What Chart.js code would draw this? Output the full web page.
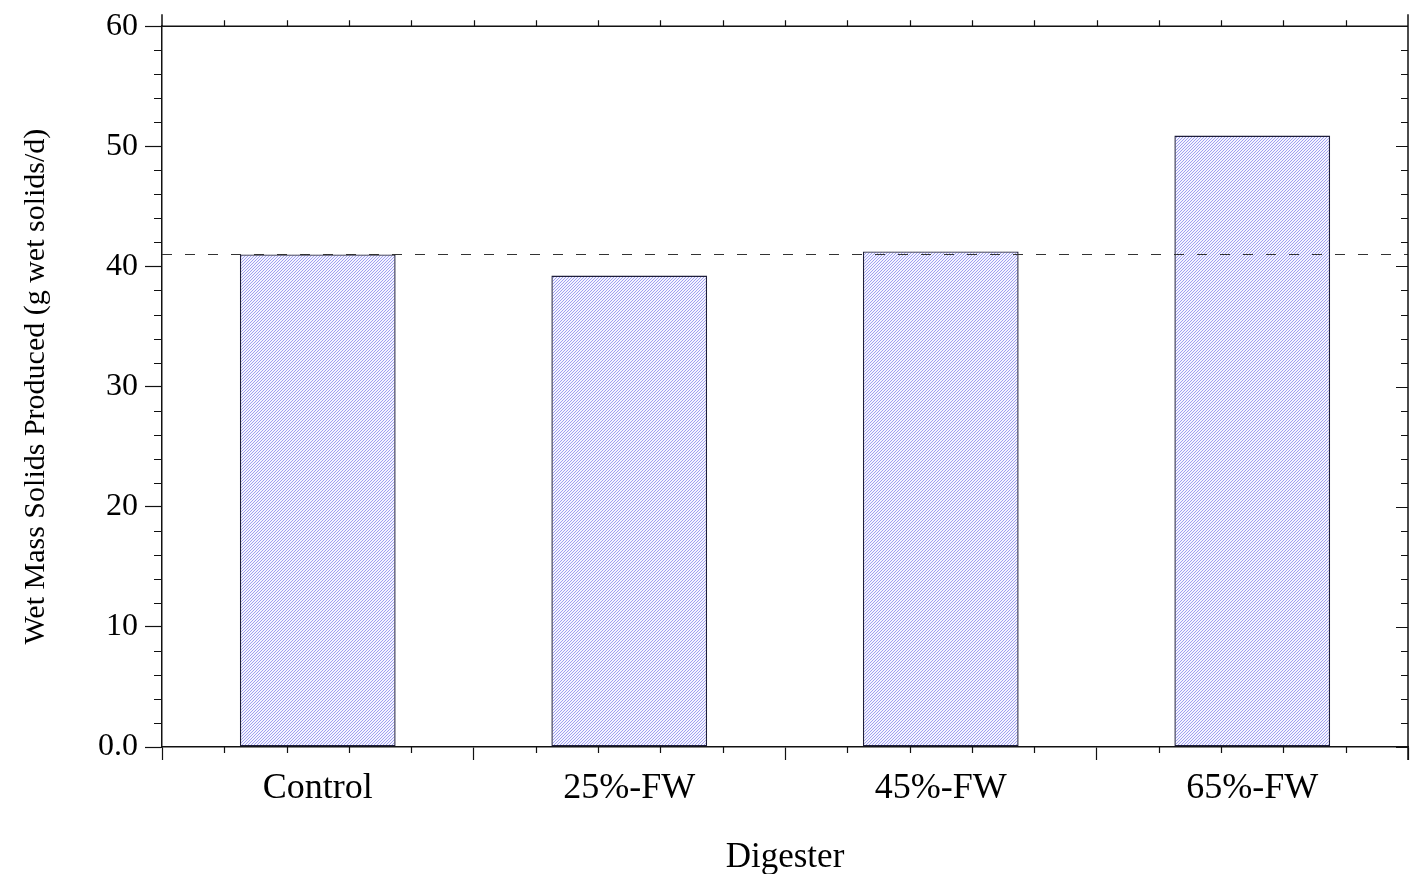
<!DOCTYPE html>
<html>
<head>
<meta charset="utf-8">
<script src="https://cdn.jsdelivr.net/npm/chart.js@4/dist/chart.umd.min.js"></script>
<style>
  html, body { margin: 0; padding: 0; background: #fff; }
  #wrap { width: 1410px; height: 874px; }
</style>
</head>
<body>
<div id="wrap"><canvas id="chart" width="1410" height="874"></canvas></div>
<script>
const digesters = ['Control', '25%-FW', '45%-FW', '65%-FW']
const wetSolids = [41.0, 39.25, 41.25, 50.9]
const controlLevel = 41.0
const yTicks = [0, 10, 20, 30, 40, 50, 60]

const FONT = '"Liberation Serif", "Times New Roman", serif'

// fine diagonal hatch like the original plot's fill
function hatch() {
  const c = document.createElement('canvas')
  c.width = 3
  c.height = 3
  const g = c.getContext('2d')
  g.fillStyle = '#f4f4ff'
  g.fillRect(0, 0, 3, 3)
  g.fillStyle = 'rgb(160,160,240)'
  for (let i = 0; i < 3; i++) g.fillRect(2 - i, i, 1, 1)
  return g.createPattern(c, 'repeat')
}

// frame, minor ticks and the dashed control level
const decor = {
  id: 'decor',
  afterDatasetsDraw(chart) {
    const { ctx, chartArea: a, scales } = chart
    const y = scales.y
    ctx.save()

    // dashed reference line at the control value
    const yr = Math.round(y.getPixelForValue(controlLevel)) + 0.5
    ctx.strokeStyle = '#333'
    ctx.lineWidth = 1
    ctx.setLineDash([10, 13])
    ctx.beginPath()
    ctx.moveTo(a.left, yr)
    ctx.lineTo(a.right, yr)
    ctx.stroke()
    ctx.setLineDash([])

    ctx.strokeStyle = '#111'
    ctx.lineWidth = 1.5
    // top and right borders
    ctx.beginPath()
    ctx.moveTo(a.left, a.top)
    ctx.lineTo(a.right, a.top)
    ctx.moveTo(a.right, a.top - 12)
    ctx.lineTo(a.right, a.bottom + 13)
    ctx.moveTo(a.left, a.top - 12)
    ctx.lineTo(a.left, a.top)
    ctx.stroke()

    // x ticks: top (outward) and bottom minor (outward)
    const n = digesters.length * 5
    ctx.lineWidth = 1.2
    ctx.beginPath()
    for (let k = 1; k < n; k++) {
      const px = Math.round(a.left + (a.right - a.left) * k / n) + 0.5
      ctx.moveTo(px, a.top)
      ctx.lineTo(px, a.top - 6)
      if (k % 5 !== 0) {
        ctx.moveTo(px, a.bottom)
        ctx.lineTo(px, a.bottom + 6)
      }
    }
    // y minor ticks: left outward, right inward
    for (let v = 0; v <= 60; v += 2) {
      const py = Math.round(y.getPixelForValue(v)) + 0.5
      if (v % 10 !== 0) {
        ctx.moveTo(a.left, py)
        ctx.lineTo(a.left - 8, py)
      }
      ctx.moveTo(a.right, py)
      ctx.lineTo(a.right - (v % 10 === 0 ? 12 : 7), py)
    }
    ctx.stroke()
    ctx.restore()
  },
}

new Chart(document.getElementById('chart'), {
  type: 'bar',
  data: {
    labels: digesters,
    datasets: [
      {
        label: 'Wet mass solids',
        data: wetSolids,
        backgroundColor: hatch(),
        borderColor: '#1e1e3a',
        borderWidth: 1.4,
        borderSkipped: false,
        barPercentage: 0.5,
        categoryPercentage: 1,
      },
    ],
  },
  options: {
    responsive: false,
    animation: false,
    layout: { padding: { top: 22, right: 2, left: 0, bottom: 0 } },
    plugins: {
      legend: { display: false },
      tooltip: { enabled: false },
    },
    scales: {
      x: {
        offset: true,
        border: { display: true, color: '#111', width: 1.5 },
        grid: {
          offset: true,
          drawOnChartArea: false,
          tickLength: 13,
          color: '#111',
          tickWidth: 1.2,
        },
        ticks: {
          color: '#000',
          padding: 7,
          font: { family: FONT, size: 36 },
        },
        title: {
          display: true,
          text: 'Digester',
          color: '#000',
          font: { family: FONT, size: 35 },
          padding: { top: 36, bottom: -5 },
        },
        afterFit(s) {
          s.height = 127
        },
      },
      y: {
        min: 0,
        max: 60,
        border: { display: true, color: '#111', width: 1.5 },
        grid: {
          drawOnChartArea: false,
          tickLength: 17,
          color: '#111',
          tickWidth: 1.2,
        },
        afterBuildTicks(s) {
          s.ticks = yTicks.map((v) => ({ value: v }))
        },
        ticks: {
          color: '#000',
          padding: 7,
          font: { family: FONT, size: 32 },
          callback: (v) => (v === 0 ? '0.0' : String(v)),
        },
        title: {
          display: true,
          text: 'Wet Mass Solids Produced (g wet solids/d)',
          color: '#000',
          font: { family: FONT, size: 30 },
          padding: { top: 18, bottom: 0 },
        },
        afterFit(s) {
          s.width = 162
        },
      },
    },
  },
  plugins: [decor],
})
</script>
</body>
</html>
